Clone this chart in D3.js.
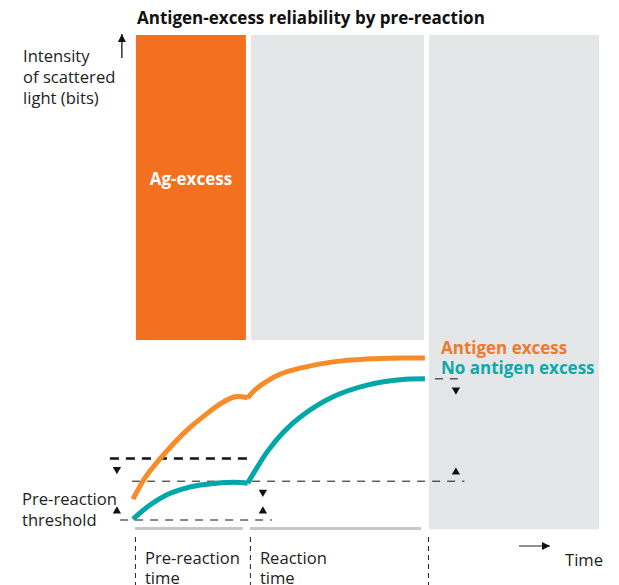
<!DOCTYPE html>
<html lang="en">
<head>
<meta charset="UTF-8">
<title>Antigen-excess reliability by pre-reaction</title>
<script src="https://d3js.org/d3.v7.min.js"></script>
<style>
  body { margin: 0; background: #fff; }
  svg { display: block; font-family: "Open Sans", "Noto Sans", sans-serif; }
  .lbl { font-size: 16.6px; fill: #222; }
</style>
</head>
<body>
<div id="chart"></div>
<script>
// time axis (arbitrary units) and intensity (arbitrary units, 0 = pre-reaction threshold)
const phases = [
  { name: "Pre-reaction", start: 1, end: 38.6, color: "#f37021", label: "Ag-excess" },
  { name: "Reaction", start: 40.3, end: 99.5, color: "#e5e6e8", label: "" },
  { name: "Readout", start: 101.2, end: 159.3, color: "#e5e6e8", label: "" }
];
const phaseFloor = [37.1, 37.1, -1.9];   // bottom of each panel (intensity units)

// orange curve: antigen excess
const excessPre = [[0, 4.3], [4.1, 8.7], [9.2, 12.6], [14.4, 16.1], [19.5, 19.1], [24.6, 21.6], [29.7, 23.9], [34.9, 25.4], [39.2, 25.2]];
const excessReact = [[39.2, 25.2], [42, 27.0], [46, 28.7], [50, 30.0], [57.1, 31.3], [68.4, 32.6], [80, 33.2], [91.3, 33.4], [99.8, 33.4]];
// teal curve: no antigen excess
const normalPre = [[0, 0.2], [5.8, 3.1], [11.6, 5.2], [17.1, 6.4], [22.9, 7.2], [28.7, 7.6], [34.2, 7.8], [39.2, 7.6]];
const normalReact = [[39.2, 7.6], [42.5, 10.9], [45.8, 14.0], [51.4, 18.1], [57.1, 21.2], [68.4, 25.4], [80, 27.8], [91.3, 28.9], [99.8, 29.1]];

// reference levels [from, to, level, heavy]
const levels = [
  [-7.9, 39.3, 12.7, true],
  [-0.3, 113.3, 8.0, false],
  [-4.4, 47.5, 0, false],
  [103.2, 111.8, 29.1, false]
];
// small arrowheads [time, level, direction]
const marks = [
  [-5.5, 12.7, "down"], [-5.5, 0, "up"],
  [44.4, 8.0, "down"], [44.4, 0, "up"],
  [110.4, 29.1, "down"], [110.4, 8.0, "up"]
];

const W = 619, H = 585;
const x = d3.scaleLinear().domain([0, 160]).range([133, 601]);
const y = d3.scaleLinear().domain([0, 100]).range([520, 35]);

const svg = d3.select("#chart").append("svg")
  .attr("width", W).attr("height", H);

const defs = svg.append("defs");
defs.append("marker")
  .attr("id", "head").attr("viewBox", "0 -5 10 10")
  .attr("refX", 10).attr("refY", 0)
  .attr("markerWidth", 10).attr("markerHeight", 8)
  .attr("markerUnits", "userSpaceOnUse")
  .attr("orient", "auto")
  .append("path").attr("d", "M0,-5L10,0L0,5Z").attr("fill", "#111");

// title
svg.append("text")
  .attr("x", 137).attr("y", 24)
  .attr("font-size", 17).attr("font-weight", 700).attr("fill", "#111")
  .text("Antigen-excess reliability by pre-reaction");

// panels
svg.selectAll("rect.panel").data(phases).join("rect")
  .attr("class", "panel")
  .attr("x", d => x(d.start))
  .attr("y", y(100))
  .attr("width", d => x(d.end) - x(d.start))
  .attr("height", (d, i) => y(phaseFloor[i]) - y(100))
  .attr("fill", d => d.color);

svg.selectAll("text.plabel").data(phases.filter(d => d.label)).join("text")
  .attr("class", "plabel")
  .attr("x", d => (x(d.start) + x(d.end)) / 2)
  .attr("y", 185)
  .attr("text-anchor", "middle")
  .attr("font-size", 17).attr("font-weight", 700).attr("fill", "#fff")
  .text(d => d.label);

// phase bars under the plot
svg.selectAll("line.pbar").data(phases.slice(0, 2)).join("line")
  .attr("class", "pbar")
  .attr("x1", d => x(d.start) - 1).attr("x2", d => x(d.end) - 3)
  .attr("y1", 528.5).attr("y2", 528.5)
  .attr("stroke", "#c8c8c8").attr("stroke-width", 3);

// phase boundary markers
svg.selectAll("line.pvert").data(phases).join("line")
  .attr("class", "pvert")
  .attr("x1", d => x(d.start) - 0.5).attr("x2", d => x(d.start) - 0.5)
  .attr("y1", 537).attr("y2", H)
  .attr("stroke", "#222").attr("stroke-width", 1)
  .attr("stroke-dasharray", "5,4");

// reference levels
svg.selectAll("line.level").data(levels).join("line")
  .attr("class", "level")
  .attr("x1", d => x(d[0])).attr("x2", d => x(d[1]))
  .attr("y1", d => y(d[2])).attr("y2", d => y(d[2]))
  .attr("stroke", "#111")
  .attr("stroke-width", d => d[3] ? 2.5 : 1)
  .attr("stroke-dasharray", d => d[3] ? "9,7" : "8,7");

svg.selectAll("path.mark").data(marks).join("path")
  .attr("class", "mark")
  .attr("d", d3.symbol(d3.symbolTriangle, 30))
  .attr("fill", "#111")
  .attr("transform", d => d[2] === "down"
    ? `translate(${x(d[0])},${y(d[1]) + 11}) rotate(180)`
    : `translate(${x(d[0])},${y(d[1]) - 9})`);

// curves
const line = d3.line().x(d => x(d[0])).y(d => y(d[1])).curve(d3.curveCatmullRom.alpha(0.5));
const curves = [
  [excessPre, "#f68b28"], [excessReact, "#f68b28"],
  [normalPre, "#00a7a8"], [normalReact, "#00a7a8"]
];
svg.selectAll("path.curve").data(curves).join("path")
  .attr("class", "curve")
  .attr("d", d => line(d[0]))
  .attr("fill", "none")
  .attr("stroke", d => d[1])
  .attr("stroke-width", 5)
  .attr("stroke-linejoin", "round");

// legend
svg.append("text").attr("x", 441).attr("y", 354)
  .attr("font-size", 17).attr("font-weight", 700).attr("fill", "#ef7a2e")
  .text("Antigen excess");
svg.append("text").attr("x", 441).attr("y", 374)
  .attr("font-size", 17).attr("font-weight", 700).attr("fill", "#10a8a8")
  .text("No antigen excess");

// y axis label and arrow
const ylab = svg.append("text").attr("class", "lbl").attr("x", 23).attr("y", 62);
["Intensity", "of scattered", "light (bits)"].forEach((t, i) =>
  ylab.append("tspan").attr("x", 23).attr("dy", i ? 21 : 0).text(t));
svg.append("line")
  .attr("x1", x(-3.8)).attr("x2", x(-3.8))
  .attr("y1", 58).attr("y2", 34)
  .attr("stroke", "#111").attr("stroke-width", 1.3)
  .attr("marker-end", "url(#head)");

// threshold label
const th = svg.append("text").attr("class", "lbl").attr("x", 22).attr("y", 505);
["Pre-reaction", "threshold"].forEach((t, i) =>
  th.append("tspan").attr("x", 22).attr("dy", i ? 21 : 0).text(t));

// phase names under the plot
phases.slice(0, 2).forEach(p => {
  const t = svg.append("text").attr("class", "lbl").attr("x", x(p.start) + 9).attr("y", 564);
  [p.name, "time"].forEach((s, i) =>
    t.append("tspan").attr("x", x(p.start) + 9).attr("dy", i ? 20 : 0).text(s));
});

// time arrow
svg.append("line")
  .attr("x1", 519).attr("x2", 550)
  .attr("y1", 546).attr("y2", 546)
  .attr("stroke", "#555").attr("stroke-width", 1.3)
  .attr("marker-end", "url(#head)");
svg.append("text").attr("class", "lbl").attr("x", 565).attr("y", 566).text("Time");
</script>
</body>
</html>
